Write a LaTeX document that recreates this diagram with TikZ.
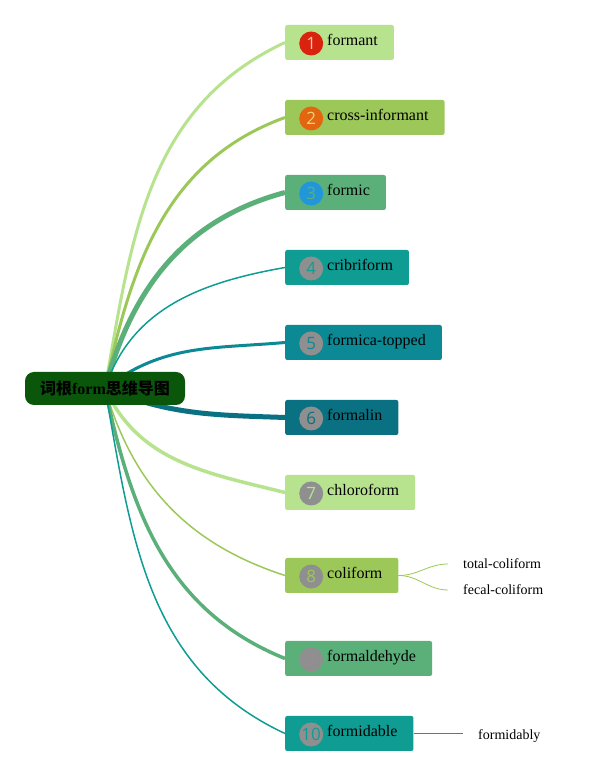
\documentclass[tikz,border=0pt]{standalone}
\usepackage{fontspec}
\setmainfont{Liberation Serif}
\newfontfamily\cjk{Noto Sans CJK SC}
\newfontfamily\numfont{Open Sans}
\usepackage{tikz}
\usetikzlibrary{positioning,backgrounds}

\definecolor{lgreen}{HTML}{B7E38F}
\definecolor{mgreen}{HTML}{9CC85A}
\definecolor{sgreen}{HTML}{5BB07A}
\definecolor{tealA}{HTML}{0F9C93}
\definecolor{tealB}{HTML}{0B8995}
\definecolor{tealC}{HTML}{0A7182}
\definecolor{rootgreen}{HTML}{0A560A}
\definecolor{dotgray}{HTML}{8F8F8F}
\definecolor{dotred}{HTML}{D9230F}
\definecolor{dotorange}{HTML}{E3650F}
\definecolor{dotblue}{HTML}{2196D8}
\definecolor{numA}{HTML}{F7C9B0}
\definecolor{numB}{HTML}{EFD27A}
\definecolor{numC}{HTML}{9A8C94}

\tikzset{
  rootbox/.style={fill=rootgreen, rounded corners=9pt, minimum width=160pt, minimum height=33pt, inner sep=0pt, font=\fontsize{16}{16}\selectfont\bfseries},
  wordbox/.style={fill=#1, rounded corners=2pt, minimum height=35pt, inner xsep=16pt, inner ysep=0pt, anchor=west, font=\fontsize{16}{16}\selectfont},
  numdot/.style={circle, fill=#1, minimum size=24pt, inner sep=0pt, font=\numfont\fontsize{17}{17}\selectfont},
  leaf/.style={inner xsep=15pt, anchor=west, font=\fontsize{14}{14}\selectfont},
}

\begin{document}
\begin{tikzpicture}[x=1pt,y=1pt]
\path[use as bounding box] (0,0) rectangle (604,777);

\node[rootbox] (root) at (105,388.5) {{\cjk 词根}form{\cjk 思维导图}};

\foreach \i/\word/\col/\dot/\numcol/\yy/\o/\e/\w in {
  1/formant/lgreen/dotred/numA/734.5/80/205/3,
  2/cross-informant/mgreen/dotorange/numB/659.5/78/200/3,
  3/formic/sgreen/dotblue/sgreen/584.5/75/195/5,
  4/cribriform/tealA/dotgray/tealA/509.5/72/190/1.5,
  5/formica-topped/tealB/dotgray/tealB/434.5/38/185/3,
  6/formalin/tealC/dotgray/tealC/359.5/-22/178/5,
  7/chloroform/lgreen/dotgray/lgreen/284.5/-65/166/3.5,
  8/coliform/mgreen/dotgray/mgreen/201.5/-74/162/1.5,
  9/formaldehyde/sgreen/dotgray/numC/118.5/-78/158/3.5,
  10/formidable/tealA/dotgray/tealA/43.5/-80/155/1.5}
{
  \node[wordbox=\col] (b\i) at (285,\yy) {\hspace*{26pt}\raisebox{5pt}{\word}};
  \node[numdot=\dot, text=\numcol, right=14pt of b\i.west, yshift=-1pt] (n\i) {\i};
  \begin{scope}[on background layer]
    \draw[\col, line width=\w pt] (root.center) to[out=\o, in=\e] (b\i.west);
  \end{scope}
}

% leaves
\node[leaf] (l8a) at (448,213) {total-coliform};
\node[leaf] (l8b) at (448,187) {fecal-coliform};
\node[leaf] (l10) at (463,40.5) {formidably};

\draw[mgreen, line width=0.8pt] (b8.east) to[out=0, in=180] (l8a.west);
\draw[mgreen, line width=0.8pt] (b8.east) to[out=0, in=180] (l8b.west);
\draw[tealA, line width=0.8pt] (b10.east) -- (l10.west |- b10.east);

\end{tikzpicture}
\end{document}
